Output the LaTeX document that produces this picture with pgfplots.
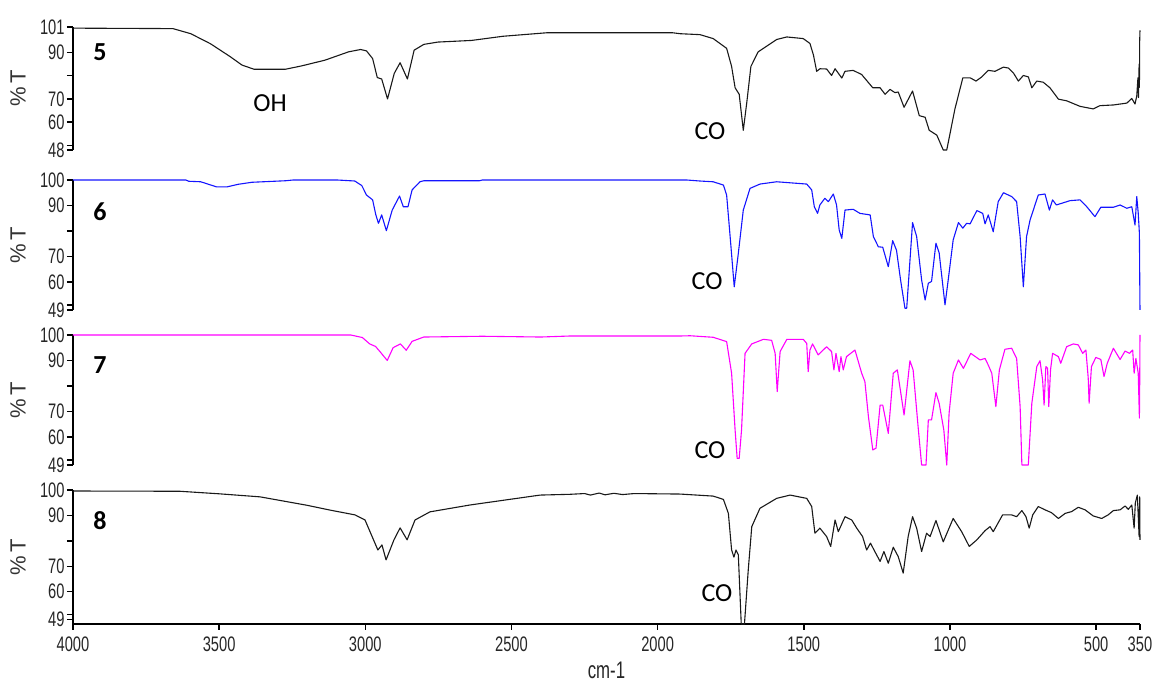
\documentclass[border=0pt]{standalone}
\usepackage{fontspec}
\setmainfont{Liberation Sans}
\newfontfamily\narrowfnt[FakeStretch=0.7]{Liberation Sans}
\newfontfamily\califnt{Carlito}
\usepackage{pgfplots}
\pgfplotsset{compat=1.18}
\definecolor{spblue}{RGB}{20,20,255}
\definecolor{spmag}{RGB}{255,0,255}
\definecolor{spblk}{RGB}{25,25,25}
\pgfplotsset{ir/.style={
  scale only axis, width=533.5pt, x dir=reverse, xmin=350, xmax=4000,
  enlargelimits=false, clip=false,
  axis y line=left,
  axis line style={-, line width=0.8pt, black},
  tick align=outside, major tick length=3pt,
  tick style={black, line width=0.7pt},
  yticklabel style={font=\narrowfnt\fontsize{10.5}{11}\selectfont, inner sep=1pt, text=black!85},
  ylabel={\%\,T},
  ylabel style={at={(axis description cs:-0.0515,0.5)}, anchor=center, rotate=0,
    font=\fontsize{11}{12}\selectfont, text=black!80},
  every axis plot/.append style={no marks, line width=0.55pt, line join=round},
}}
\pgfplotsset{noxaxis/.style={axis x line*=bottom, x axis line style={draw=none}, xtick=\empty}}
\newcommand{\lab}[1]{{\califnt\bfseries\fontsize{13}{15}\selectfont #1}}
\newcommand{\ann}[1]{{\califnt\fontsize{13}{15}\selectfont #1}}
\begin{document}
\begin{tikzpicture}
\path[use as bounding box] (0,0) rectangle (576.5pt,342pt);
% ---------------- panel 5
\begin{axis}[ir, noxaxis, at={(36.5pt,267pt)}, anchor=south west, height=61.5pt,
  ymin=48, ymax=101, ytick={48,50,60,70,80,90,101}, yticklabels={48,,60,70,,90,101}]
\addplot[spblk] table {
4000 100.5
3658 100.3
3597 98.1
3530 93.8
3462 88.2
3422 84.6
3381 82.8
3273 82.8
3219 84.2
3138 86.7
3057 90.3
3016 91.3
2996 90.7
2975 87.4
2959 79.2
2944 78.6
2924 70.0
2901 81.0
2881 85.6
2856 78.6
2833 91.0
2800 93.5
2752 94.5
2637 95.2
2529 97.0
2380 98.5
1948 98.5
1923 98.1
1855 97.7
1810 96.0
1764 91.8
1747 84.0
1735 74.8
1721 72.0
1707 56.5
1695 68.5
1681 84.0
1656 90.3
1593 95.6
1558 96.7
1502 96.0
1479 93.9
1467 88.9
1456 81.9
1445 83.0
1422 82.9
1405 80.1
1393 83.0
1370 79.0
1359 81.9
1331 82.3
1302 80.5
1264 74.8
1239 74.8
1222 72.0
1205 74.1
1188 72.7
1177 73.0
1157 66.4
1128 73.4
1105 62.8
1085 62.1
1071 56.5
1045 54.4
1023 48.0
1011 48.0
983 65.7
956 79.1
931 79.1
911 77.7
891 79.5
869 82.3
846 81.9
817 83.7
800 83.3
783 81.2
766 77.7
749 80.1
732 79.5
720 74.8
703 77.7
681 77.2
658 74.8
629 69.9
601 69.2
555 66.8
510 65.7
487 67.1
441 67.4
395 68.2
378 70.2
367 67.8
361 71.3
357 79.1
355 70.6
353 85.0
352 75.0
351 95.0
350 99.5
};
\node at (axis cs:3908,90.2) {\lab{5}};
\node at (axis cs:3326,68.2) {\ann{OH}};
\node at (axis cs:1821,56.2) {\ann{CO}};
\end{axis}
% ---------------- panel 6
\begin{axis}[ir, noxaxis, at={(36.5pt,187pt)}, anchor=south west, height=65pt,
  ymin=49, ymax=100, ytick={49,51,60,70,80,90,100}, yticklabels={49,,60,70,,90,100}]
\addplot[spblue] table {
4000 100
3614 100
3604 99.5
3563 99.3
3536 98.3
3509 97.3
3473 97.3
3435 98.3
3388 99.1
3273 99.7
3246 100
3097 100
3036 99.6
3012 97.8
2996 94.1
2975 92.2
2964 86.3
2955 83.0
2944 86.3
2928 80.1
2908 88.2
2883 93.7
2870 89.5
2854 89.5
2840 96.1
2813 99.3
2800 99.7
2610 99.7
2599 100
2590 100
1901 100
1856 99.6
1810 99.3
1775 98.0
1764 94.1
1752 77.8
1738 58.1
1724 71.2
1707 88.2
1684 96.7
1650 98.4
1593 99.3
1490 98.4
1473 96.1
1464 89.5
1453 86.9
1445 90.2
1428 92.8
1416 91.5
1399 94.5
1388 90.2
1379 80.4
1370 77.1
1359 88.2
1331 88.5
1308 86.9
1273 86.3
1262 77.8
1245 73.8
1230 73.6
1211 66.0
1196 76.2
1183 72.5
1169 60.8
1154 49.7
1148 49.7
1128 83.3
1114 77.8
1097 60.8
1085 52.9
1074 59.5
1063 60.2
1048 75.2
1037 71.4
1017 51.0
1006 60.8
989 76.5
971 83.3
956 81.1
943 83.0
931 82.8
908 88.0
888 86.9
880 82.8
869 86.3
852 79.7
835 91.5
817 95.0
789 93.5
772 91.5
760 77.8
749 58.1
738 77.8
726 84.3
698 94.1
675 94.5
660 88.2
649 92.2
636 90.2
589 91.9
555 92.2
532 89.5
504 85.6
484 89.3
441 89.3
418 90.2
395 88.9
378 89.5
367 82.3
361 93.5
356 87.0
352 79.1
350 49.0
};
\node at (axis cs:3908,87.4) {\lab{6}};
\node at (axis cs:1831,60.4) {\ann{CO}};
\end{axis}
% ---------------- panel 7
\begin{axis}[ir, noxaxis, at={(36.5pt,109.5pt)}, anchor=south west, height=65pt,
  ymin=49, ymax=100, ytick={49,51,60,70,80,90,100}, yticklabels={49,,60,70,,90,100}]
\addplot[spmag] table {
4000 100
3050 100
3010 99.0
2985 96.5
2965 95.5
2950 93.5
2925 90.0
2905 95.0
2880 96.5
2860 94.0
2840 97.5
2800 99.2
2600 99.5
2400 99.2
2300 99.6
1923 99.6
1889 99.7
1810 99.1
1764 97.4
1747 85.0
1735 62.7
1728 51.6
1721 51.6
1713 62.7
1701 92.8
1678 96.5
1638 98.3
1610 97.9
1598 92.8
1591 77.8
1581 93.5
1558 98.3
1502 98.3
1490 96.7
1485 85.6
1479 94.1
1470 96.5
1451 92.2
1422 95.4
1405 93.5
1397 86.3
1390 92.8
1379 85.6
1373 91.5
1365 86.3
1354 91.5
1325 94.1
1302 85.0
1291 81.7
1279 68.0
1264 54.9
1253 55.6
1239 72.5
1230 72.5
1211 61.4
1194 85.0
1180 86.3
1157 68.6
1137 89.9
1126 86.3
1109 64.0
1097 49.0
1082 49.0
1074 66.7
1063 66.7
1048 77.4
1037 73.2
1021 62.7
1011 49.0
1003 69.3
989 85.0
971 90.2
954 86.9
929 92.8
897 90.2
880 90.8
869 88.2
857 85.0
843 71.9
831 86.3
812 94.4
789 94.8
772 90.8
760 71.9
754 49.0
732 49.0
720 73.2
703 87.6
692 89.9
683 82.3
678 72.5
672 87.6
666 86.9
662 71.9
656 86.3
649 92.8
629 91.5
621 88.9
601 95.4
578 96.5
561 96.1
546 92.8
535 94.1
527 83.0
524 73.2
516 87.6
501 91.2
484 90.4
473 83.7
462 88.9
441 94.8
418 90.4
401 93.7
386 92.8
375 94.1
370 85.0
364 90.8
356 85.0
352 67.4
351 80.0
350 100
};
\node at (axis cs:3908,88.2) {\lab{7}};
\node at (axis cs:1821,54.9) {\ann{CO}};
\end{axis}
% ---------------- panel 8
\begin{axis}[ir, at={(36.5pt,30pt)}, anchor=south west, height=67pt,
  ymin=47.3, ymax=100, ytick={49,51,60,70,80,90,100}, yticklabels={49,,60,70,,90,100},
  axis x line*=bottom,
  xtick={4000,3500,3000,2500,2000,1500,1000,500,350},
  xticklabels={4000,3500,3000,2500,2000,1500,1000,500,350},
  xticklabel style={font=\narrowfnt\fontsize{10.5}{11}\selectfont, text=black!85},
  xlabel={cm-1},
  xlabel style={at={(axis description cs:0.5,0)}, anchor=center, yshift=-23pt,
    font=\narrowfnt\fontsize{12}{13}\selectfont, text=black!85}]
\addplot[spblk] table {
4000 99.6
3635 99.5
3500 98.5
3360 97.3
3200 94.0
3121 92.1
3035 90.2
3001 88.2
2957 76.4
2943 78.4
2929 72.5
2902 80.4
2881 85.1
2857 80.4
2830 88.2
2779 91.4
2642 94.1
2402 98.0
2300 98.3
2250 98.6
2230 98.0
2200 98.8
2180 98.1
2150 98.7
2120 98.2
2080 98.6
1923 98.4
1810 97.6
1775 96.3
1758 90.8
1747 76.4
1739 73.6
1732 76.4
1724 74.5
1714 47.3
1703 47.3
1690 68.6
1678 85.6
1650 92.8
1593 96.7
1547 98.0
1490 96.7
1473 93.5
1462 83.0
1445 85.0
1422 81.7
1408 77.8
1393 88.2
1382 83.6
1359 89.5
1336 88.2
1319 85.0
1299 81.7
1285 76.4
1272 79.1
1257 75.8
1239 71.9
1226 75.8
1211 71.2
1194 77.5
1177 73.8
1160 67.3
1143 81.7
1128 89.5
1114 85.0
1097 75.8
1080 83.0
1068 81.7
1048 88.0
1023 79.6
989 88.8
960 83.6
934 77.8
908 80.4
880 84.0
863 85.6
852 83.6
820 90.2
789 90.2
772 89.5
754 91.9
740 89.5
729 85.0
717 90.2
698 93.5
675 92.2
653 91.1
629 88.8
606 90.8
584 91.5
561 93.2
538 92.2
510 89.8
481 88.8
459 90.2
441 91.9
418 92.2
401 93.7
390 92.4
378 94.1
370 85.0
366 94.8
359 98.0
353 81.7
351 97.3
350 80.4
};
\node at (axis cs:3908,87.8) {\lab{8}};
\node at (axis cs:1797,59.6) {\ann{CO}};
\end{axis}
\end{tikzpicture}
\end{document}
